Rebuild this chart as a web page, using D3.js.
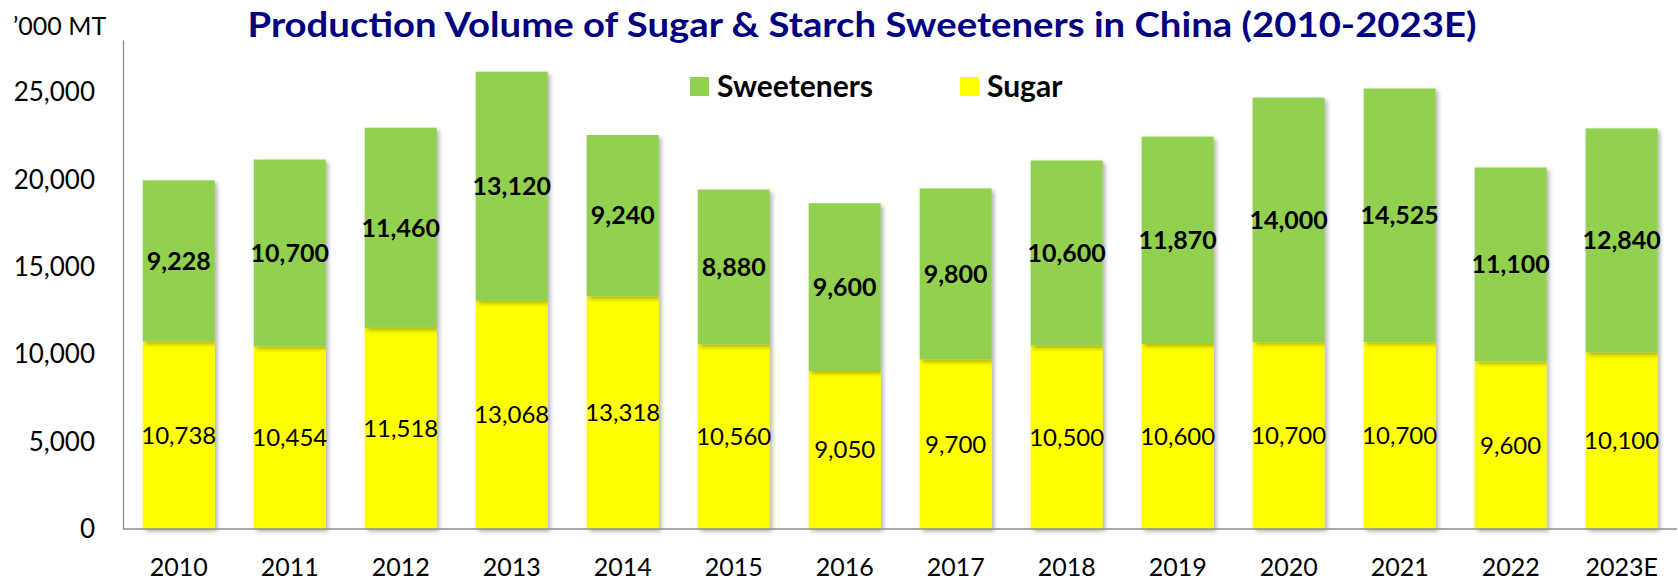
<!DOCTYPE html>
<html>
<head>
<meta charset="utf-8">
<script src="https://cdnjs.cloudflare.com/ajax/libs/d3/7.8.5/d3.min.js"></script>
<style>
  body { margin: 0; background: #fff; }
  svg { font-family: Lato, "Open Sans", sans-serif; }
  .title { fill: #000080; font-weight: bold; font-size: 34px; }
  .axis path { stroke: #8c8c8c; stroke-width: 1.3; }
  .axis text { fill: #000; font-size: 26px; font-family: Lato, sans-serif; }
  .xaxis text { font-size: 25px; }
  .lbl-sugar { font-size: 24px; fill: #000; }
  .lbl-sweet { font-size: 25px; font-weight: bold; fill: #000; }
  .legend text { font-size: 30px; font-weight: bold; fill: #000; }
</style>
</head>
<body>
<div id="chart"></div>
<script>
// data
var years = ["2010", "2011", "2012", "2013", "2014", "2015", "2016",
             "2017", "2018", "2019", "2020", "2021", "2022", "2023E"];
var sugar = [10738, 10454, 11518, 13068, 13318, 10560, 9050,
             9700, 10500, 10600, 10700, 10700, 9600, 10100];
var sweeteners = [9228, 10700, 11460, 13120, 9240, 8880, 9600,
                  9800, 10600, 11870, 14000, 14525, 11100, 12840];
var yTicks = [0, 5000, 10000, 15000, 20000, 25000];
var seriesNames = ["Sweeteners", "Sugar"];

var width = 1678, height = 582;
var colors = { "Sugar": "#ffff00", "Sweeteners": "#92d050" };

var svg = d3.select("#chart").append("svg")
    .attr("width", width)
    .attr("height", height);

// soft shadow like the office chart
var defs = svg.append("defs");
defs.append("filter")
    .attr("id", "shadow")
    .attr("x", "-20%").attr("y", "-20%")
    .attr("width", "140%").attr("height", "140%")
  .append("feDropShadow")
    .attr("dx", 2.5).attr("dy", 2.5)
    .attr("stdDeviation", 2)
    .attr("flood-color", "#000")
    .attr("flood-opacity", 0.3);

var x = d3.scaleBand()
    .domain(years)
    .range([123, 1677.4])
    .paddingInner(0.351)
    .paddingOuter(0.178);

var y = d3.scaleLinear()
    .domain([0, 28000])
    .range([529, 40]);

var rows = years.map(function(yr, i) {
    return { year: yr, Sugar: sugar[i], Sweeteners: sweeteners[i] };
});

var stack = d3.stack().keys(["Sugar", "Sweeteners"]);
var series = stack(rows);

// bars
var groups = svg.append("g")
    .selectAll("g")
    .data(series)
    .enter().append("g")
    .attr("fill", function(d) { return colors[d.key]; });

groups.selectAll("rect")
    .data(function(d) { return d; })
    .enter().append("rect")
    .attr("x", function(d) { return x(d.data.year); })
    .attr("y", function(d) { return y(d[1]); })
    .attr("width", x.bandwidth())
    .attr("height", function(d) { return y(d[0]) - y(d[1]); })
    .attr("filter", "url(#shadow)");

// axes
var yAxis = svg.append("g")
    .attr("class", "axis")
    .attr("transform", "translate(123,0)")
    .call(d3.axisLeft(y).tickValues(yTicks).tickSize(0).tickPadding(28).tickFormat(d3.format(",")));

var xAxis = svg.append("g")
    .attr("class", "axis xaxis")
    .attr("transform", "translate(0,529)")
    .call(d3.axisBottom(x).tickSize(0).tickSizeOuter(0));
xAxis.select(".domain").attr("d", "M123,0H1677");
xAxis.selectAll("text").attr("dy", null).attr("y", 47);

// data labels
svg.append("g").selectAll("text")
    .data(series[0])
    .enter().append("text")
    .attr("class", "lbl-sugar")
    .attr("text-anchor", "middle")
    .attr("dy", "0.35em")
    .attr("x", function(d) { return x(d.data.year) + x.bandwidth() / 2; })
    .attr("y", function(d) { return (y(d[0]) + y(d[1])) / 2; })
    .text(function(d) { return d3.format(",")(d.data.Sugar); });

svg.append("g").selectAll("text")
    .data(series[1])
    .enter().append("text")
    .attr("class", "lbl-sweet")
    .attr("text-anchor", "middle")
    .attr("dy", "0.35em")
    .attr("x", function(d) { return x(d.data.year) + x.bandwidth() / 2; })
    .attr("y", function(d) { return (y(d[0]) + y(d[1])) / 2; })
    .text(function(d) { return d3.format(",")(d.data.Sweeteners); });

// title + unit
svg.append("text")
    .attr("class", "title")
    .attr("x", 862)
    .attr("y", 37)
    .attr("text-anchor", "middle")
    .attr("textLength", 1229)
    .attr("lengthAdjust", "spacingAndGlyphs")
    .text("Production Volume of Sugar & Starch Sweeteners in China (2010-2023E)");

svg.append("text")
    .attr("x", 13)
    .attr("y", 35)
    .style("font-size", "25px")
    .text("\u2019000 MT");

// legend
var legendX = [690, 960];
var legend = svg.append("g").attr("class", "legend")
    .selectAll("g")
    .data(seriesNames)
    .enter().append("g")
    .attr("transform", function(d, i) { return "translate(" + legendX[i] + ",77)"; });

legend.append("rect")
    .attr("width", 19)
    .attr("height", 19)
    .attr("fill", function(d) { return colors[d]; });

legend.append("text")
    .attr("x", 27)
    .attr("y", 20)
    .text(function(d) { return d; });
</script>
</body>
</html>
